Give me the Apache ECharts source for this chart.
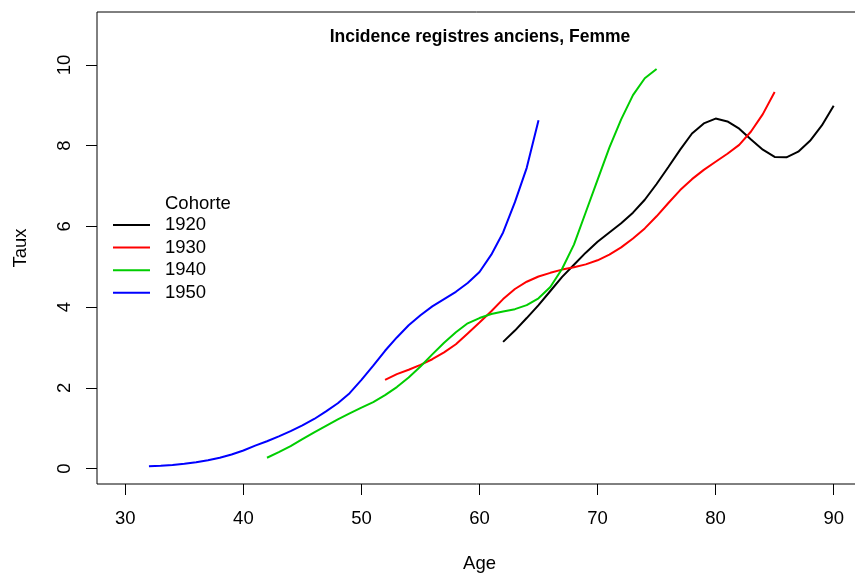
<!DOCTYPE html>
<html>
<head>
<meta charset="utf-8">
<script src="https://cdn.jsdelivr.net/npm/echarts@6/dist/echarts.min.js"></script>
<style>html,body{margin:0;padding:0;background:#fff;}#c{width:855px;height:574px;}</style>
</head>
<body>
<div id="c"></div>
<script>
const cohorts = ["1920", "1930", "1940", "1950"];
const colors = ["#000000", "#FF0000", "#00CD00", "#0000FF"];
const xTicks = [30, 40, 50, 60, 70, 80, 90];
const yTicks = [0, 2, 4, 6, 8, 10];

const age1920 = [62,63,64,65,66,67,68,69,70,71,72,73,74,75,76,77,78,79,80,81,82,83,84,85,86,87,88,89,90];
const val1920 = [3.14,3.42,3.73,4.05,4.40,4.75,5.05,5.35,5.62,5.85,6.08,6.34,6.66,7.05,7.47,7.90,8.30,8.55,8.67,8.60,8.42,8.15,7.90,7.72,7.71,7.85,8.12,8.50,8.99];

const age1930 = [52,53,54,55,56,57,58,59,60,61,62,63,64,65,66,67,68,69,70,71,72,73,74,75,76,77,78,79,80,81,82,83,84,85];
const val1930 = [2.20,2.34,2.45,2.57,2.71,2.88,3.08,3.35,3.62,3.90,4.20,4.45,4.63,4.76,4.85,4.93,4.99,5.06,5.16,5.30,5.48,5.70,5.95,6.25,6.58,6.90,7.17,7.40,7.60,7.80,8.02,8.35,8.78,9.33];

const age1940 = [42,43,44,45,46,47,48,49,50,51,52,53,54,55,56,57,58,59,60,61,62,63,64,65,66,67,68,69,70,71,72,73,74,75];
const val1940 = [0.27,0.41,0.56,0.73,0.90,1.06,1.22,1.37,1.51,1.65,1.82,2.02,2.26,2.53,2.83,3.12,3.38,3.60,3.73,3.83,3.89,3.95,4.05,4.22,4.50,4.95,5.55,6.35,7.15,7.95,8.65,9.25,9.67,9.90];

const age1950 = [32,33,34,35,36,37,38,39,40,41,42,43,44,45,46,47,48,49,50,51,52,53,54,55,56,57,58,59,60,61,62,63,64,65];
const val1950 = [0.06,0.07,0.09,0.12,0.16,0.21,0.27,0.35,0.45,0.57,0.68,0.80,0.93,1.07,1.23,1.42,1.62,1.87,2.20,2.55,2.92,3.25,3.55,3.80,4.02,4.20,4.38,4.60,4.87,5.30,5.85,6.60,7.45,8.63];

const ages = [age1920, age1930, age1940, age1950];
const vals = [val1920, val1930, val1940, val1950];

const FONT = '"Liberation Sans", Arial, Helvetica, sans-serif';
const chart = echarts.init(document.getElementById('c'), null, {renderer: 'canvas'});

const series = cohorts.map((name, i) => ({
  name: name,
  type: 'line',
  data: ages[i].map((a, j) => [a, vals[i][j]]),
  symbol: 'none',
  smooth: false,
  lineStyle: {color: colors[i], width: 2},
  itemStyle: {color: colors[i]},
  animation: false
}));

chart.setOption({
  animation: false,
  backgroundColor: '#ffffff',
  textStyle: {fontFamily: FONT},
  grid: {
    left: 97, top: 12, width: 765, height: 472,
    containLabel: false, outerBoundsMode: 'none',
    show: true, borderColor: '#000000', borderWidth: 1, backgroundColor: 'transparent'
  },
  xAxis: {
    type: 'value', min: 27.6, max: 92.4,
    name: 'Age', nameLocation: 'middle', nameGap: 70,
    nameTextStyle: {fontSize: 18.5, color: '#000', fontFamily: FONT},
    axisLine: {show: false, onZero: false},
    splitLine: {show: false},
    axisTick: {show: true, customValues: xTicks, length: 11, lineStyle: {color: '#000', width: 1}},
    axisLabel: {customValues: xTicks, fontSize: 18.5, color: '#000', margin: 25, fontFamily: FONT}
  },
  yAxis: {
    type: 'value', min: -0.38, max: 11.31,
    name: 'Taux', nameLocation: 'middle', nameGap: 67, nameRotate: 90,
    nameTextStyle: {fontSize: 18.5, color: '#000', fontFamily: FONT},
    axisLine: {show: false, onZero: false},
    splitLine: {show: false},
    axisTick: {show: true, customValues: yTicks, length: 11, lineStyle: {color: '#000', width: 1}},
    axisLabel: {customValues: yTicks, fontSize: 18.5, color: '#000', margin: 23, rotate: 90, fontFamily: FONT}
  },
  legend: {
    data: cohorts.map(c => ({name: c, icon: 'path://M0,0L37,0L37,2L0,2Z'})),
    orient: 'vertical',
    left: 113, top: 214, padding: 0,
    itemWidth: 37, itemHeight: 22, itemGap: 0.6,
    symbolKeepAspect: true,
    textStyle: {fontSize: 18.5, color: '#000', lineHeight: 22, padding: [0, 0, 0, 10], fontFamily: FONT},
    selectedMode: false
  },
  graphic: [
    {type: 'text', style: {text: 'Incidence registres anciens, Femme', x: 480, y: 37, textAlign: 'center', textVerticalAlign: 'middle', fill: '#000', font: 'bold 17.5px ' + FONT}},
    {type: 'text', style: {text: 'Cohorte', x: 165, y: 204, textAlign: 'left', textVerticalAlign: 'middle', fill: '#000', font: '18.5px ' + FONT}}
  ],
  series: series
});
</script>
</body>
</html>
